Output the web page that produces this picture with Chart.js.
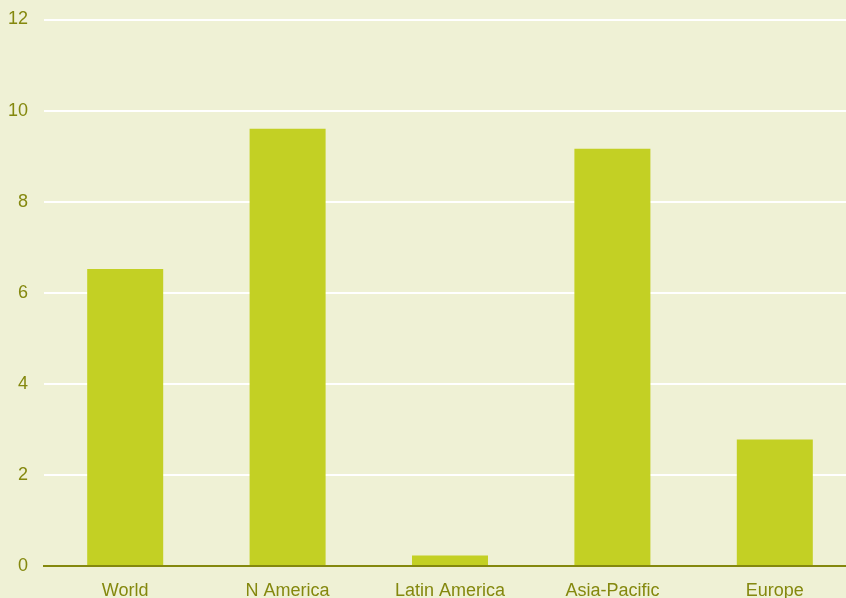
<!DOCTYPE html>
<html>
<head>
<meta charset="utf-8">
<script src="https://cdn.jsdelivr.net/npm/chart.js@4"></script>
<style>
  html, body { margin: 0; padding: 0; background: #eff1d5; overflow: hidden; }
  #wrap { width: 856px; height: 598px; position: relative; }
</style>
</head>
<body>
<div id="wrap"><canvas id="chart"></canvas></div>
<script>
// data
const regions = ["World", "N America", "Latin America", "Asia-Pacific", "Europe"];
const values = [6.52, 9.6, 0.23, 9.16, 2.78];
const yTicks = [0, 2, 4, 6, 8, 10, 12];

const olive = "#84880e";

const bgPlugin = {
    id: "bg",
    beforeDraw(chart) {
        const c = chart.ctx;
        c.save();
        c.fillStyle = "#eff1d5";
        c.fillRect(0, 0, chart.width, chart.height);
        c.restore();
    }
};

new Chart(document.getElementById("chart"), {
    type: "bar",
    data: {
        labels: regions,
        datasets: [{
            data: values,
            backgroundColor: "#c3d024",
            borderWidth: 0,
            barPercentage: 0.468,
            categoryPercentage: 1
        }]
    },
    options: {
        responsive: true,
        maintainAspectRatio: false,
        animation: false,
        layout: { padding: { top: 19.5, right: 0, left: 0, bottom: 0 } },
        plugins: { legend: { display: false }, tooltip: { enabled: false } },
        scales: {
            x: {
                grid: { display: false, drawTicks: false },
                border: { display: true, color: olive, width: 2 },
                ticks: {
                    color: olive,
                    padding: 14,
                    font: { family: "'Liberation Sans', Arial, sans-serif", size: 18 }
                },
                afterFit(axis) {
                    axis.height = 32;
                    axis.paddingLeft = 0;
                    axis.paddingRight = 0;
                }
            },
            y: {
                min: 0,
                max: 12,
                afterBuildTicks(axis) { axis.ticks = yTicks.map(v => ({ value: v })); },
                grid: { color: "#ffffff", lineWidth: 2, drawTicks: false },
                border: { display: false },
                ticks: {
                    color: olive,
                    padding: 16,
                    font: { family: "'Liberation Sans', Arial, sans-serif", size: 18 }
                },
                afterFit(axis) {
                    axis.width = 44;
                    axis.paddingTop = 0;
                    axis.paddingBottom = 0;
                }
            }
        }
    },
    plugins: [bgPlugin]
});
</script>
</body>
</html>
